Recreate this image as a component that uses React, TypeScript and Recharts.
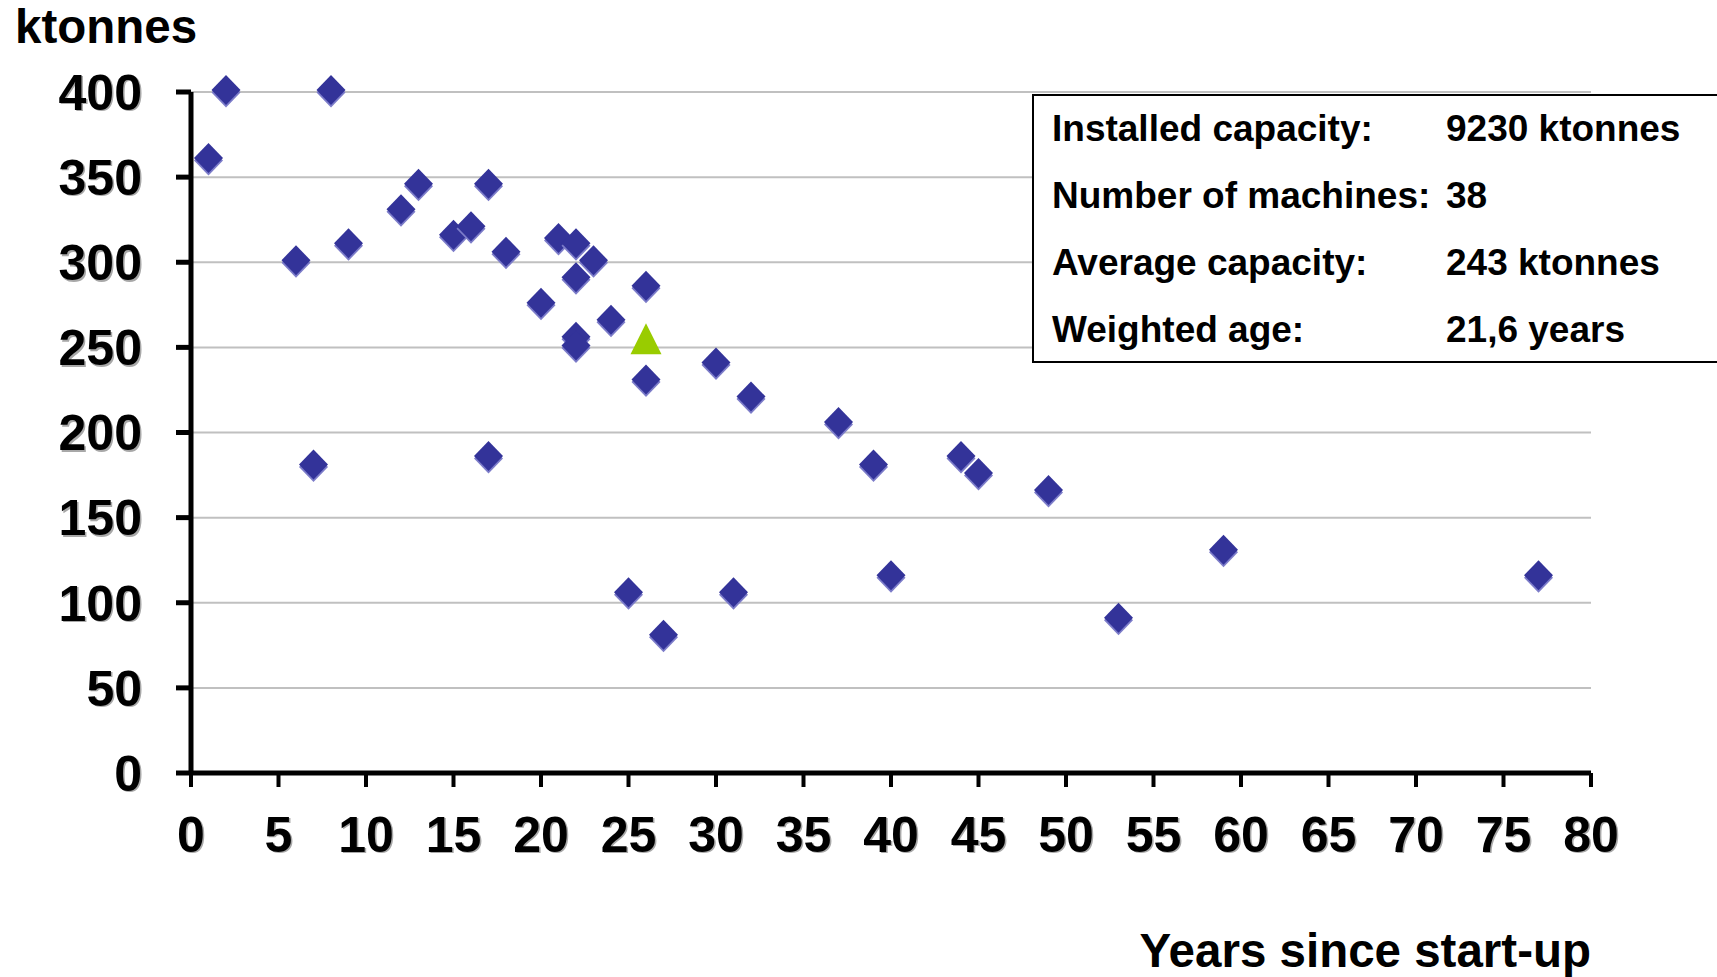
import React from 'react';
import { ScatterChart, Scatter, XAxis, YAxis, CartesianGrid } from 'recharts';

// machine age (years since start-up) and capacity (ktonnes)
const years = [1, 2, 8, 6, 7, 9, 12, 13, 15, 16, 17, 17, 18, 20, 21, 22, 22, 22, 22, 23, 24, 25, 26, 26, 27, 30, 31, 32, 37, 39, 40, 44, 45, 49, 53, 59, 77];
const capacities = [360, 400, 400, 300, 180, 310, 330, 345, 315, 320, 345, 185, 305, 275, 313, 310, 290, 255, 250, 300, 265, 105, 285, 230, 80, 240, 105, 220, 205, 180, 115, 185, 175, 165, 90, 130, 115];

// weighted average marker
const avgYears = [26];
const avgCapacity = [255];

const xTicks = [0, 5, 10, 15, 20, 25, 30, 35, 40, 45, 50, 55, 60, 65, 70, 75, 80];
const yTicks = [0, 50, 100, 150, 200, 250, 300, 350, 400];

const statLabels = ['Installed capacity:', 'Number of machines:', 'Average capacity:', 'Weighted age:'];
const statValues = ['9230 ktonnes', '38', '243 ktonnes', '21,6 years'];

const machines = years.map((x, i) => ({ x, y: capacities[i] }));
const average = avgYears.map((x, i) => ({ x, y: avgCapacity[i] }));

const FONT = "'Liberation Sans', Arial, sans-serif";

// diamond marker with a light drop shadow underneath
const Diamond = (props: any) => {
  const { cx } = props;
  const cy = props.cy - 2;
  const w = 14.5;
  const h = 15;
  const pts = (dx: number, dy: number) =>
    `${cx + dx},${cy - h + dy} ${cx + w + dx},${cy + dy} ${cx + dx},${cy + h + dy} ${cx - w + dx},${cy + dy}`;
  return (
    <g>
      <polygon points={pts(0, 2.5)} fill="#7c7cc9" />
      <polygon points={pts(0, 0)} fill="#333399" />
    </g>
  );
};

const Triangle = (props: any) => {
  const { cx, cy } = props;
  const s = 15.5;
  return <polygon points={`${cx},${cy - s} ${cx + s},${cy + s} ${cx - s},${cy + s}`} fill="#99cc00" />;
};

const YTick = (props: any) => {
  const { x, y, payload } = props;
  const common = { textAnchor: 'end' as const, dy: '0.355em', fontSize: 50, fontWeight: 'bold', fontFamily: FONT };
  return (
    <g>
      <text x={x + 1.5} y={y + 1.5} fill="#a8a8a8" {...common}>{payload.value}</text>
      <text x={x} y={y} fill="#000" {...common}>{payload.value}</text>
    </g>
  );
};

const XTick = (props: any) => {
  const { x, y, payload } = props;
  const common = { textAnchor: 'middle' as const, dy: '0.71em', fontSize: 50, fontWeight: 'bold', fontFamily: FONT };
  return (
    <g>
      <text x={x + 1.5} y={y + 1.5} fill="#a8a8a8" {...common}>{payload.value}</text>
      <text x={x} y={y} fill="#000" {...common}>{payload.value}</text>
    </g>
  );
};

export default function App() {
  return (
    <div style={{ position: 'absolute', left: 0, top: 0, width: 1717, height: 977, background: '#fff', overflow: 'hidden' }}>
      <ScatterChart width={1717} height={977} margin={{ top: 92, right: 126, bottom: 74, left: 0 }}>
        <CartesianGrid vertical={false} stroke="#c0c0c0" strokeWidth={2} />
        <XAxis
          type="number"
          dataKey="x"
          domain={[0, 80]}
          ticks={xTicks}
          interval={0}
          height={130}
          tickSize={14}
          tickMargin={29}
          axisLine={{ stroke: '#000', strokeWidth: 5 }}
          tickLine={{ stroke: '#000', strokeWidth: 4 }}
          tick={<XTick />}
        />
        <YAxis
          type="number"
          dataKey="y"
          domain={[0, 400]}
          ticks={yTicks}
          interval={0}
          width={191}
          tickSize={15}
          tickMargin={34}
          axisLine={{ stroke: '#000', strokeWidth: 5 }}
          tickLine={{ stroke: '#000', strokeWidth: 5 }}
          tick={<YTick />}
        />
        <Scatter data={machines} shape={(p: any) => <Diamond {...p} />} isAnimationActive={false} />
        <Scatter data={average} shape={(p: any) => <Triangle {...p} />} isAnimationActive={false} />
      </ScatterChart>

      <svg width={1717} height={977} style={{ position: 'absolute', left: 0, top: 0, pointerEvents: 'none' }}>
        <text x={15} y={43} fontSize={47.5} fontWeight="bold" fontFamily={FONT} fill="#000">ktonnes</text>
        <text x={1591} y={967} textAnchor="end" fontSize={47.5} fontWeight="bold" fontFamily={FONT} fill="#000">
          Years since start-up
        </text>
        <rect x={1033} y={95} width={700} height={267} fill="#fff" stroke="#000" strokeWidth={2} />
        {statLabels.map((label, i) => (
          <g key={label}>
            <text x={1052} y={141 + i * 67} fontSize={37} fontWeight="bold" fontFamily={FONT} fill="#000">{label}</text>
            <text x={1446} y={141 + i * 67} fontSize={37} fontWeight="bold" fontFamily={FONT} fill="#000">{statValues[i]}</text>
          </g>
        ))}
      </svg>
    </div>
  );
}
